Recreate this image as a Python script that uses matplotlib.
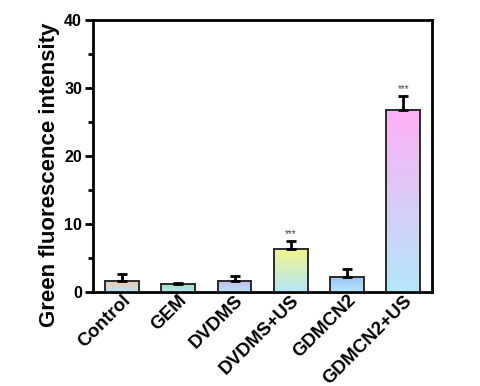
import numpy as np
import matplotlib.pyplot as plt
from matplotlib.colors import LinearSegmentedColormap
from matplotlib.transforms import ScaledTranslation

plt.rcParams['font.family'] = ['Liberation Sans', 'DejaVu Sans']
plt.rcParams['font.weight'] = 'bold'

groups = ["Control", "GEM", "DVDMS", "DVDMS+US", "GDMCN2", "GDMCN2+US"]
means = [1.66, 1.22, 1.66, 6.28, 2.25, 26.76]
errs = [0.95, 0.15, 0.7, 1.25, 1.2, 2.0]
stars = ["", "", "", "***", "", "***"]

# top colour of each bar's gradient; all fade to light blue at the base
top_colors = ["#f7c49a", "#9fdca8", "#c8b4e6", "#f4f68c", "#9cc2f2", "#ffb0f6"]
base_color = "#b4e6fa"

fig = plt.figure(figsize=(4.8, 3.86), dpi=100)
ax = fig.add_axes([0.194, 0.2435, 0.706, 0.7045])

x = np.arange(len(groups))
width = 0.6
bars = ax.bar(x, means, width, color="none", edgecolor="#2a2a2a", linewidth=1.4, zorder=3)

grad = np.linspace(0, 1, 256).reshape(-1, 1)
for b, c in zip(bars, top_colors):
    cmap = LinearSegmentedColormap.from_list("g", [base_color, c])
    x0 = b.get_x()
    im = ax.imshow(grad, cmap=cmap, origin="lower", aspect="auto",
                   extent=[x0, x0 + b.get_width(), 0, b.get_height()], zorder=2)
    im.set_clip_path(b)

ax.errorbar(x, means, yerr=[np.zeros(len(errs)), errs], fmt="none", ecolor="black",
            elinewidth=2, capsize=3.5, capthick=2, zorder=4)

for xi, m, e, s in zip(x, means, errs, stars):
    if s:
        ax.text(xi, m + e + 0.3, s, ha="center", va="bottom", fontsize=7,
                color="#444444", fontweight="normal")

ax.set_xlim(-0.515, 5.51)
ax.set_ylim(0, 40)
ax.set_yticks([0, 10, 20, 30, 40])
ax.set_yticks([5, 15, 25, 35], minor=True)
ax.set_xticks(x)
ax.set_xticklabels(groups, rotation=45, ha="right", rotation_mode="anchor",
                   fontsize=13.5, fontweight="bold")
shift = ScaledTranslation(0.20, -0.17, fig.dpi_scale_trans)
for lbl in ax.get_xticklabels():
    lbl.set_transform(lbl.get_transform() + shift)
ax.tick_params(axis="y", which="major", direction="out", length=6, width=2,
               labelsize=11.5, pad=2)
ax.tick_params(axis="y", which="minor", direction="out", length=3.5, width=2)
ax.tick_params(axis="x", length=0, pad=0)
for sp in ax.spines.values():
    sp.set_linewidth(2)
ax.set_ylabel("Green fluorescence intensity", fontsize=16, fontweight="bold")
ax.yaxis.set_label_coords(-0.097, 0.43)

fig.savefig("out.png", dpi=100)
